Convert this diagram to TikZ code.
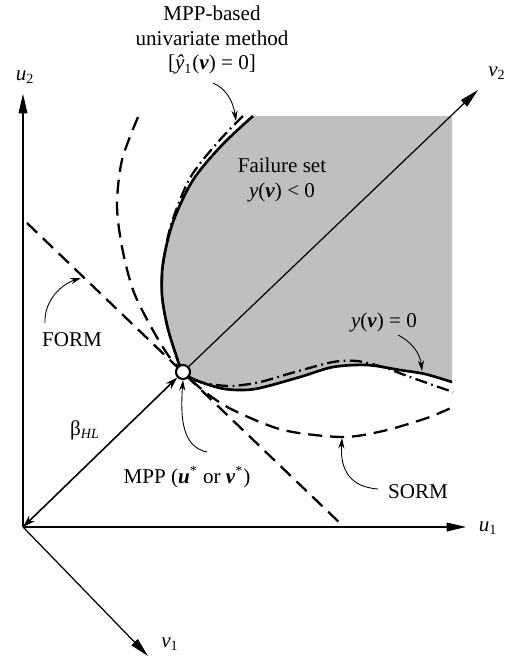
\documentclass[tikz,border=0pt]{standalone}
\usepackage{fontspec}
\setmainfont{Liberation Serif}
\usetikzlibrary{arrows.meta}
\tikzset{lbl/.style={font=\fontsize{12}{14.2}\selectfont,align=center,inner sep=1pt},axis/.style={-{Triangle[length=11pt,width=5pt]},line width=0.7pt},lsf/.style={line width=1.5pt},form/.style={line width=1.3pt,dash pattern=on 8pt off 4.5pt},sorm/.style={form},umv/.style={line width=1.3pt,dash pattern=on 7pt off 2.5pt on 1pt off 2.5pt},note/.style={-{Stealth[length=6pt,width=3.5pt]},line width=0.5pt},beta/.style={{Stealth[length=7pt,width=4.5pt]}-{Stealth[length=7pt,width=4.5pt]},line width=0.9pt}}
\begin{document}
\begin{tikzpicture}[x=0.02cm,y=-0.02cm]
\useasboundingbox (0,0) rectangle (510,657);
\coordinate (o) at (23,527);\coordinate (u1tip) at (466,527);\coordinate (u2tip) at (23,94);\coordinate (v1tip) at (148,656);\coordinate (v2tip) at (478,90);\coordinate (formA) at (27,223);\coordinate (formB) at (343,526);
\fill[black!25] plot[smooth] coordinates {(253,116) (222,145) (193,180) (173,222) (163,263) (162,295) (167,325) (175,352) (183,372) (198,381) (225,389) (255,389) (300,377) (333,367) (367,365) (400,370) (425,374) (452,382)} -- (452,116) -- cycle;
\draw[axis] (o) -- (u1tip);\draw[axis] (o) -- (u2tip);\draw[axis] (o) -- (v1tip);
\draw[form] (formA) -- (formB);
\draw[sorm] plot[smooth] coordinates {(138,117) (122,160) (117,205) (122,247) (133,290) (150,325) (168,355) (183,372) (205,392) (233,410) (283,430) (342,437) (383,431) (427,418) (453,407)};
\draw[umv] plot[smooth] coordinates {(243,116) (218,142) (190,178) (171,225) (163,265) (162,295) (167,325) (175,352) (183,372) (200,382) (230,386) (260,382) (295,372) (333,362) (357,361) (383,367) (410,377) (453,392)};
\draw[lsf] plot[smooth] coordinates {(253,116) (222,145) (193,180) (173,222) (163,263) (162,295) (167,325) (175,352) (183,372) (198,381) (225,389) (255,389) (300,377) (333,367) (367,365) (400,370) (425,374) (452,382)};
\node[circle,draw,fill=white,line width=1.2pt,minimum size=0.28cm,inner sep=0pt] (mpp) at (183,372) {};
\draw[axis] (mpp) -- (v2tip);\draw[beta] (mpp) -- (o);
\node[lbl] (u1lbl) at (488,528) {\textit{u}\textsubscript{1}};\node[lbl] (u2lbl) at (25,77) {\textit{u}\textsubscript{2}};\node[lbl] (v1lbl) at (170,644) {\textit{v}\textsubscript{1}};\node[lbl] (v2lbl) at (497,73) {\textit{v}\textsubscript{2}};
\node[lbl] (betalbl) at (85,430) {β\textsubscript{\textit{HL}}};\node[lbl] (formlbl) at (72,340) {FORM};\node[lbl] (sormlbl) at (418,492) {SORM};
\node[lbl] (mpplbl) at (187,477) {MPP (\textbf{\textit{u}}\textsuperscript{*} or \textbf{\textit{v}}\textsuperscript{*})};\node[lbl] (lsflbl) at (384,322) {\textit{y}(\textbf{\textit{v}}) = 0};
\node[lbl] (faillbl) at (282,180) {Failure set\\\textit{y}(\textbf{\textit{v}}) < 0};\node[lbl] (umvlbl) at (212,40) {MPP-based\\univariate method\\{[}\textit{ŷ}\textsubscript{1}(\textbf{\textit{v}}) = 0{]}};
\coordinate (umvtail) at (213,83);\coordinate (umvhead) at (236,121);\coordinate (lsftail) at (398,335);\coordinate (lsfhead) at (422,371);\coordinate (formtail) at (45,323);\coordinate (formhead) at (81,278);\coordinate (sormtail) at (378,489);\coordinate (sormhead) at (342,438);\coordinate (mpptail) at (207,452);
\draw[note] (umvtail) .. controls (225,88) and (233,100) .. (umvhead);\draw[note] (lsftail) .. controls (410,341) and (420,352) .. (lsfhead);\draw[note] (formtail) .. controls (44,300) and (62,284) .. (formhead);
\draw[note] (sormtail) .. controls (350,487) and (340,470) .. (sormhead);\draw[note] (mpptail) .. controls (183,447) and (180,420) .. (mpp.south);
\end{tikzpicture}
\end{document}
